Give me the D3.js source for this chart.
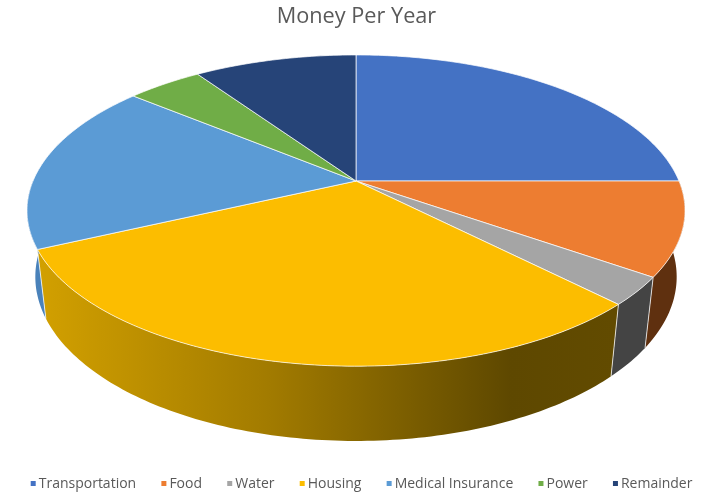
<!DOCTYPE html>
<html>
<head>
<meta charset="utf-8">
<script src="https://cdn.jsdelivr.net/npm/d3@7"></script>
<style>
  html, body { margin: 0; padding: 0; background: #fff; }
  svg { display: block; filter: blur(0.35px); }
  text { font-family: "Open Sans", sans-serif; fill: #595959; }
</style>
</head>
<body>
<div id="chart"></div>
<script>
const categories = ['Transportation', 'Food', 'Water', 'Housing', 'Medical Insurance', 'Power', 'Remainder']
const shares = [25, 9.7, 2.9, 30.5, 17.85, 4.45, 9.6]
const topColors = ['#4472c4', '#ed7d31', '#a5a5a5', '#fcbd00', '#5b9bd5', '#70ad47', '#264478']
const sideColors = ['#2a4a80', '#5f300f', '#444444', 'url(#housingSide)', '#4a82ba', '#47702c', '#182c4e']

const width = 720
const height = 496

const svg = d3.select('#chart').append('svg')
  .attr('width', width)
  .attr('height', height)

// the side of the housing slice gets darker to the right
const grad = svg.append('defs').append('linearGradient')
  .attr('id', 'housingSide')
  .attr('gradientUnits', 'userSpaceOnUse')
  .attr('x1', 38).attr('x2', 615).attr('y1', 0).attr('y2', 0)
grad.append('stop').attr('offset', '0%').attr('stop-color', '#d2a000')
grad.append('stop').attr('offset', '40%').attr('stop-color', '#a27b00')
grad.append('stop').attr('offset', '82%').attr('stop-color', '#5e4800')
grad.append('stop').attr('offset', '100%').attr('stop-color', '#624b00')

// perspective of the tilted disc
const tilt = 0.19
const drop = 0.447
const shrink = 0.025
const xScale = d3.scaleLinear().domain([-1, 1]).range([33, 679])
const yScale = d3.scaleLinear().domain([1, -1]).range([31, 331])

function project (angle, z) {
  const w = 1 + tilt * Math.cos(angle) + shrink * z
  return [
    xScale(Math.sin(angle) / w),
    yScale((Math.cos(angle) - drop * z) / w)
  ]
}

function arcPoints (a0, a1, z) {
  const n = Math.max(2, Math.ceil((a1 - a0) * 60))
  return d3.range(n + 1).map(i => project(a0 + (a1 - a0) * i / n, z))
}

const line = d3.line()
const slices = d3.pie().sort(null).value(d => d)(shares)

// sides first, only the part that faces the viewer
const front = [Math.PI / 2, Math.PI * 3 / 2]
const sideSlices = slices.filter(d => d.endAngle > front[0] && d.startAngle < front[1])

svg.append('g').selectAll('path')
  .data(sideSlices)
  .enter()
  .append('path')
  .attr('d', d => {
    const a0 = Math.max(d.startAngle, front[0])
    const a1 = Math.min(d.endAngle, front[1])
    return line(arcPoints(a0, a1, 0).concat(arcPoints(a0, a1, 1).reverse())) + 'Z'
  })
  .attr('fill', d => sideColors[d.index])

// light seams between the slices on the side wall
svg.append('g').selectAll('path')
  .data(sideSlices.filter(d => d.endAngle < front[1]))
  .enter()
  .append('path')
  .attr('d', d => line([project(d.endAngle, 0), project(d.endAngle, 1)]))
  .attr('stroke', '#fff')
  .attr('stroke-opacity', 0.75)
  .attr('stroke-width', 1)

// top of the pie
svg.append('g').selectAll('path')
  .data(slices)
  .enter()
  .append('path')
  .attr('d', d => {
    const centre = [xScale(0), yScale(0)]
    return line([centre].concat(arcPoints(d.startAngle, d.endAngle, 0))) + 'Z'
  })
  .attr('fill', d => topColors[d.index])
  .attr('stroke', '#fff')
  .attr('stroke-opacity', 0.7)
  .attr('stroke-width', 1)
  .attr('stroke-linejoin', 'round')

svg.append('text')
  .attr('x', 356.5)
  .attr('y', 23)
  .attr('text-anchor', 'middle')
  .style('font-size', '21.7px')
  .text('Money Per Year')

// legend, items follow each other by text width
const legend = svg.append('g')
const items = legend.selectAll('g')
  .data(categories)
  .enter()
  .append('g')

items.append('rect')
  .attr('y', 481)
  .attr('width', 5)
  .attr('height', 5)
  .attr('fill', (d, i) => topColors[i])

items.append('text')
  .attr('x', 8)
  .attr('y', 488)
  .style('font-size', '14px')
  .text(d => d)

let legendX = 30.7
items.each(function () {
  const item = d3.select(this)
  item.attr('transform', `translate(${legendX},0)`)
  legendX += 8 + item.select('text').node().getComputedTextLength() + 25.2
})
</script>
</body>
</html>
